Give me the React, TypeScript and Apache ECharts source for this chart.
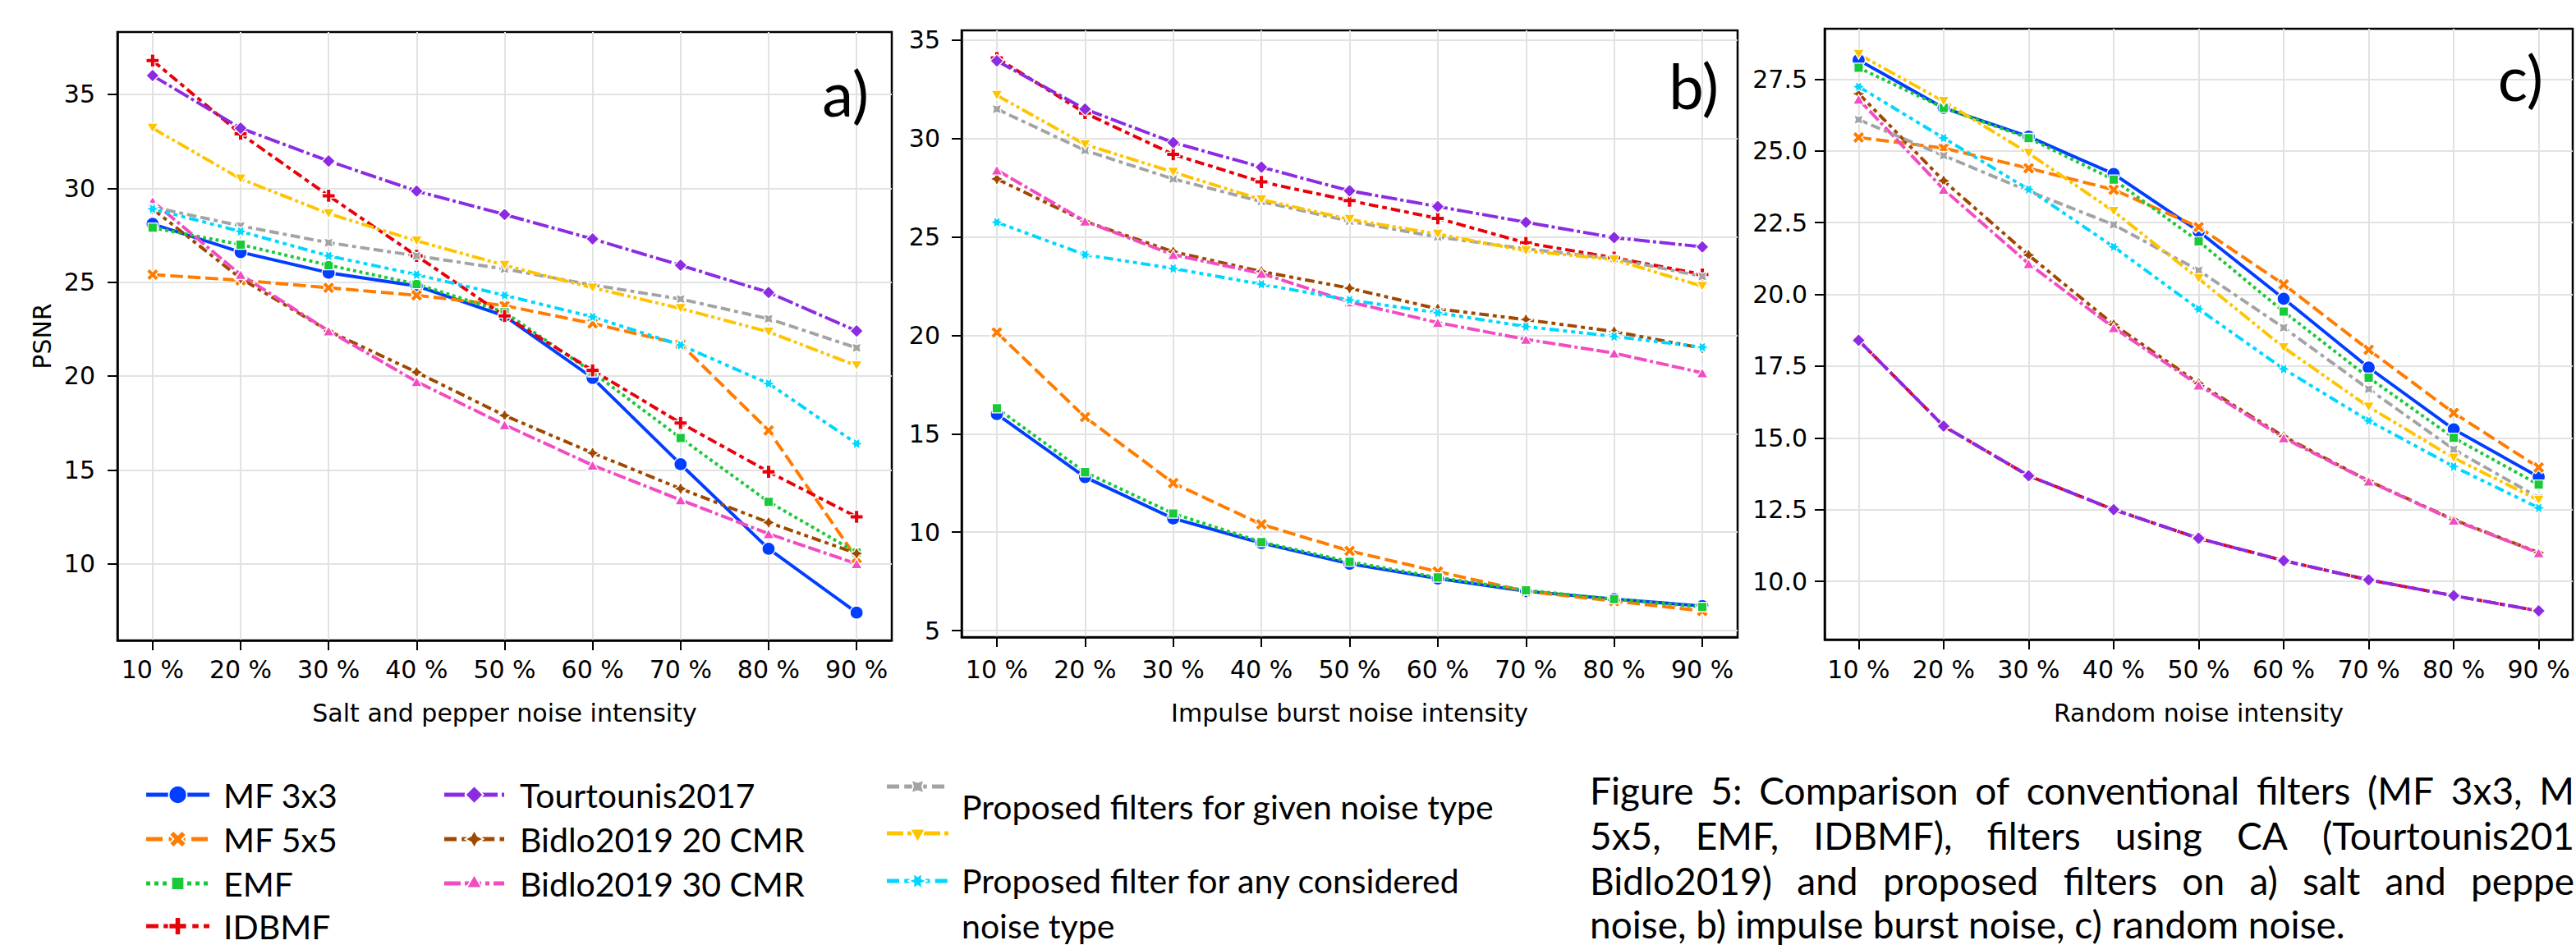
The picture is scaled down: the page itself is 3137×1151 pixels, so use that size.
import React, { useEffect, useRef } from "react";
import * as echarts from "echarts";

// ---------------- DATA ----------------
const xLabels = ["10 %", "20 %", "30 %", "40 %", "50 %", "60 %", "70 %", "80 %", "90 %"];
const xTitles = ["Salt and pepper noise intensity", "Impulse burst noise intensity", "Random noise intensity"];
const panelTags = ["a)", "b)", "c)"];
const yTitle = "PSNR";

const yTicksA = [10, 15, 20, 25, 30, 35];
const yTicksB = [5, 10, 15, 20, 25, 30, 35];
const yTicksC = [10, 12.5, 15, 17.5, 20, 22.5, 25, 27.5];

const seriesNames = [
  "MF 3x3",
  "MF 5x5",
  "EMF",
  "IDBMF",
  "Tourtounis2017",
  "Bidlo2019 20 CMR",
  "Bidlo2019 30 CMR",
  "Proposed filters for given noise type (1)",
  "Proposed filters for given noise type (2)",
  "Proposed filter for any considered noise type",
];

// a) salt and pepper noise
const spMF3 = [28.1, 26.6, 25.5, 24.8, 23.2, 19.9, 15.3, 10.8, 7.4];
const spMF5 = [25.4, 25.1, 24.7, 24.3, 23.75, 22.8, 21.7, 17.1, 10.3];
const spEMF = [27.9, 27.0, 25.9, 24.9, 23.4, 20.2, 16.7, 13.3, 10.6];
const spIDBMF = [36.8, 32.9, 29.6, 26.4, 23.2, 20.3, 17.5, 14.9, 12.5];
const spTour = [36.0, 33.2, 31.45, 29.85, 28.6, 27.3, 25.9, 24.45, 22.4];
const spB20 = [28.9, 25.2, 22.4, 20.2, 17.9, 15.9, 14.0, 12.2, 10.55];
const spB30 = [29.3, 25.4, 22.4, 19.7, 17.4, 15.25, 13.4, 11.6, 10.0];
const spGivenGray = [29.0, 28.0, 27.1, 26.4, 25.7, 24.85, 24.1, 23.05, 21.5];
const spGivenYellow = [33.2, 30.5, 28.65, 27.2, 25.9, 24.7, 23.6, 22.35, 20.55];
const spAny = [28.9, 27.7, 26.4, 25.4, 24.3, 23.15, 21.65, 19.6, 16.4];

// b) impulse burst noise
const ibMF3 = [16.0, 12.8, 10.7, 9.45, 8.4, 7.65, 7.0, 6.6, 6.25];
const ibMF5 = [20.15, 15.85, 12.5, 10.4, 9.05, 8.0, 7.0, 6.5, 6.0];
const ibEMF = [16.3, 13.05, 10.95, 9.5, 8.5, 7.7, 7.05, 6.6, 6.2];
const ibIDBMF = [34.1, 31.3, 29.2, 27.8, 26.85, 25.95, 24.7, 23.95, 23.1];
const ibTour = [33.95, 31.5, 29.8, 28.55, 27.35, 26.55, 25.75, 24.97, 24.5];
const ibB20 = [27.95, 25.8, 24.25, 23.25, 22.4, 21.35, 20.8, 20.2, 19.35];
const ibB30 = [28.4, 25.8, 24.1, 23.15, 21.7, 20.65, 19.8, 19.1, 18.1];
const ibGivenGray = [31.5, 29.4, 27.95, 26.8, 25.8, 25.0, 24.4, 23.9, 23.0];
const ibGivenYellow = [32.2, 29.7, 28.3, 26.9, 25.9, 25.15, 24.3, 23.85, 22.5];
const ibAny = [25.75, 24.1, 23.4, 22.6, 21.8, 21.15, 20.45, 19.95, 19.4];

// c) random noise
const rnMF3 = [28.17, 26.5, 25.5, 24.2, 22.2, 19.85, 17.45, 15.3, 13.64];
const rnMF5 = [25.47, 25.1, 24.4, 23.65, 22.35, 20.35, 18.07, 15.87, 13.97];
const rnEMF = [27.9, 26.5, 25.45, 24.0, 21.85, 19.4, 17.1, 15.0, 13.37];
const rnIDBMF = [18.4, 15.41, 13.68, 12.5, 11.5, 10.72, 10.05, 9.5, 8.97];
const rnTour = [18.4, 15.41, 13.68, 12.5, 11.5, 10.72, 10.05, 9.5, 8.97];
const rnB20 = [27.0, 23.96, 21.37, 18.95, 16.9, 15.05, 13.5, 12.15, 11.0];
const rnB30 = [26.8, 23.66, 21.07, 18.84, 16.84, 15.0, 13.49, 12.13, 10.99];
const rnGivenGray = [26.09, 24.84, 23.6, 22.43, 20.84, 18.84, 16.7, 14.6, 12.92];
const rnGivenYellow = [28.37, 26.73, 24.92, 22.9, 20.55, 18.15, 16.08, 14.3, 12.83];
const rnAny = [27.24, 25.45, 23.66, 21.66, 19.49, 17.4, 15.6, 14.0, 12.56];

const legendCol1 = ["MF 3x3", "MF 5x5", "EMF", "IDBMF"];
const legendCol2 = ["Tourtounis2017", "Bidlo2019 20 CMR", "Bidlo2019 30 CMR"];
const legendCol3Text = ["Proposed filters for given noise type", "Proposed filter for any considered", "noise type"];

const captionLine1 = ["Figure", "5:", "Comparison", "of", "conventional", "filters", "(MF", "3x3,", "M"];
const captionLine2 = ["5x5,", "EMF,", "IDBMF),", "filters", "using", "CA", "(Tourtounis201"];
const captionLine3 = ["Bidlo2019)", "and", "proposed", "filters", "on", "a)", "salt", "and", "peppe"];
const captionLine4 = "noise, b) impulse burst noise, c) random noise.";

// ---------------- STYLE ----------------
const W = 3137;
const H = 1151;
const palette = ["#023eff", "#ff7c00", "#1ac938", "#e8000b", "#8b2be2", "#9f4800", "#f14cc1", "#a3a3a3", "#ffc400", "#00d7ff"];
const dashUnits: (number[] | null)[] = [
  null,
  [4, 1.5],
  [1, 1],
  [3, 1.25, 1.5, 1.25],
  [5, 1, 1, 1],
  [3, 1.25, 1.25, 1.25, 1.25, 1.25],
  [4, 1, 4, 1, 1, 1],
  [3, 1.25, 3, 1.25, 1.25, 1.25],
  [4, 1, 1, 1, 1, 1],
  [3, 1.25, 1.25, 1.25, 1.25, 1.25, 1.25, 1.25],
];

function rotatePts(pts: number[][], deg: number) {
  const a = (deg * Math.PI) / 180;
  const c = Math.cos(a), s = Math.sin(a);
  return pts.map(([x, y]) => [x * c - y * s, x * s + y * c]);
}
function regPoly(n: number, rotDeg: number) {
  const pts: number[][] = [];
  for (let k = 0; k < n; k++) {
    const a = ((90 + rotDeg + (360 / n) * k) * Math.PI) / 180;
    pts.push([0.5 * Math.cos(a), -0.5 * Math.sin(a)]);
  }
  return pts;
}
function starPoly(n: number, inner: number, rotDeg: number) {
  const pts: number[][] = [];
  for (let k = 0; k < 2 * n; k++) {
    const a = ((90 + rotDeg + (180 / n) * k) * Math.PI) / 180;
    const r = k % 2 === 0 ? 0.5 : 0.5 * inner;
    pts.push([r * Math.cos(a), -r * Math.sin(a)]);
  }
  return pts;
}
const plusBase = [
  [-1, -3], [1, -3], [1, -1], [3, -1], [3, 1], [1, 1], [1, 3], [-1, 3], [-1, 1], [-3, 1], [-3, -1], [-1, -1],
].map(([x, y]) => [x / 6, y / 6]);

const markerShapes: (string | number[][])[] = [
  "circle",
  rotatePts(plusBase, 45),
  regPoly(4, 45),
  plusBase,
  regPoly(4, 0),
  starPoly(4, 0.5, 0),
  regPoly(3, 0),
  starPoly(4, 0.5, 45),
  regPoly(3, 180),
  starPoly(6, 0.5, 30),
];

function bboxMax(pts: number[][]) {
  const xs = pts.map((p) => p[0]);
  const ys = pts.map((p) => p[1]);
  return Math.max(Math.max(...xs) - Math.min(...xs), Math.max(...ys) - Math.min(...ys));
}
function toPath(pts: number[][]) {
  return "path://M" + pts.map((p) => p[0].toFixed(4) + " " + p[1].toFixed(4)).join(" L") + " Z";
}

const LW = 3.9;
const MS = 16;
const LEG_LW = 5;
const LEG_MS = 22;

const grids = [
  { left: 143, top: 39, width: 943, height: 741 },
  { left: 1171, top: 37, width: 945, height: 739 },
  { left: 2222, top: 35, width: 911, height: 744 },
];
const yRanges = [
  [5.92, 38.32],
  [4.67, 35.5],
  [7.97, 29.26],
];
const yTickSets = [yTicksA, yTicksB, yTicksC];
const yLabelMargins = [27, 26, 21];
const xLabelMargins = [20.5, 24.5, 21.5];
const xNameGaps = [73, 77, 74];
const tagPos = [
  [1058, 112],
  [2093, 103],
  [3097, 93],
];

const tickFont = "DejaVu Sans";
const docFont = "Lato";
const LEG_FONT = 41;
const CAP_FONT = 46;
const CAP_LEFT = 1936;
const CAP_RIGHT = 3135;
const capLineY = [962, 1017, 1072, 1125];

export default function App() {
  const ref = useRef<HTMLDivElement>(null);

  useEffect(() => {
    if (!ref.current) return;
    const chart = echarts.init(ref.current, undefined, { renderer: "svg" });

    const panelData = [
      [spMF3, spMF5, spEMF, spIDBMF, spTour, spB20, spB30, spGivenGray, spGivenYellow, spAny],
      [ibMF3, ibMF5, ibEMF, ibIDBMF, ibTour, ibB20, ibB30, ibGivenGray, ibGivenYellow, ibAny],
      [rnMF3, rnMF5, rnEMF, rnIDBMF, rnTour, rnB20, rnB30, rnGivenGray, rnGivenYellow, rnAny],
    ];
    const xIdx = xLabels.map((_, i) => i);

    const series: any[] = [];
    panelData.forEach((list, p) => {
      list.forEach((vals, s) => {
        const shape = markerShapes[s];
        const isCircle = shape === "circle";
        series.push({
          type: "line",
          name: seriesNames[s],
          xAxisIndex: p,
          yAxisIndex: p,
          data: vals.map((v, i) => [i, v]),
          symbol: isCircle ? "circle" : toPath(shape as number[][]),
          symbolSize: isCircle ? MS : MS * bboxMax(shape as number[][]),
          symbolKeepAspect: true,
          showSymbol: true,
          lineStyle: {
            color: palette[s],
            width: LW,
            type: dashUnits[s] ? (dashUnits[s] as number[]).map((d) => d * LW) : "solid",
            cap: "butt",
          },
          itemStyle: { color: palette[s], borderColor: "#ffffff", borderWidth: 1.3 },
          emphasis: { disabled: true },
          z: 2,
          silent: true,
        });
      });
    });

    const xAxes = grids.map((_, p) => ({
      type: "value",
      gridIndex: p,
      min: -0.4,
      max: 8.4,
      axisLine: { show: true, onZero: false, lineStyle: { color: "#000", width: 2.5 } },
      axisTick: { show: true, length: 12, lineStyle: { color: "#000", width: 2 }, customValues: xIdx },
      axisLabel: {
        customValues: xIdx,
        formatter: (v: number) => xLabels[Math.round(v)],
        fontFamily: tickFont,
        fontSize: 30,
        color: "#000",
        margin: xLabelMargins[p],
      },
      splitLine: { show: true, lineStyle: { color: "#e2e2e2", width: 2 } },
      name: xTitles[p],
      nameLocation: "middle",
      nameGap: xNameGaps[p],
      nameTextStyle: { fontFamily: tickFont, fontSize: 30, color: "#000" },
    }));

    const yAxes = grids.map((_, p) => ({
      type: "value",
      gridIndex: p,
      min: yRanges[p][0],
      max: yRanges[p][1],
      axisLine: { show: true, onZero: false, lineStyle: { color: "#000", width: 2.5 } },
      axisTick: { show: true, length: 12, lineStyle: { color: "#000", width: 2 }, customValues: yTickSets[p] },
      axisLabel: {
        customValues: yTickSets[p],
        formatter: (v: number) => (p === 2 ? v.toFixed(1) : String(Math.round(v))),
        fontFamily: tickFont,
        fontSize: 30,
        color: "#000",
        margin: yLabelMargins[p],
      },
      splitLine: { show: true, lineStyle: { color: "#e2e2e2", width: 2 } },
      name: p === 0 ? yTitle : "",
      nameLocation: "middle",
      nameGap: 77,
      nameTextStyle: { fontFamily: tickFont, fontSize: 30, color: "#000" },
    }));

    const elements: any[] = [];

    // panel tags
    panelTags.forEach((t, p) => {
      elements.push({
        type: "text",
        x: tagPos[p][0],
        y: tagPos[p][1],
        style: { text: t, fontFamily: docFont, fontSize: 76, fill: "#000", textAlign: "right", textVerticalAlign: "middle" },
        z: 10,
      });
    });

    // legend helpers
    const legendIcon = (s: number, x1: number, x2: number, y: number) => {
      const dash = dashUnits[s];
      elements.push({
        type: "line",
        shape: { x1, y1: y, x2, y2: y },
        style: {
          stroke: palette[s],
          lineWidth: LEG_LW,
          lineDash: dash ? dash.map((d) => d * LEG_LW) : null,
          lineCap: "butt",
        },
        z: 10,
      });
      const cx = (x1 + x2) / 2;
      const shape = markerShapes[s];
      if (shape === "circle") {
        elements.push({
          type: "circle",
          shape: { cx, cy: y, r: LEG_MS / 2 },
          style: { fill: palette[s], stroke: "#fff", lineWidth: 1.8 },
          z: 11,
        });
      } else {
        elements.push({
          type: "polygon",
          shape: { points: (shape as number[][]).map(([px, py]) => [cx + px * LEG_MS, y + py * LEG_MS]) },
          style: { fill: palette[s], stroke: "#fff", lineWidth: 1.8 },
          z: 11,
        });
      }
    };
    const legendText = (t: string, x: number, y: number) => {
      elements.push({
        type: "text",
        x,
        y,
        style: { text: t, fontFamily: docFont, fontSize: LEG_FONT, fill: "#000", textAlign: "left", textVerticalAlign: "middle" },
        z: 10,
      });
    };

    const col1Y = [968, 1022, 1076, 1128];
    legendCol1.forEach((t, i) => {
      legendIcon(i, 178, 255, col1Y[i]);
      legendText(t, 272, col1Y[i]);
    });
    const col2Y = [968, 1022, 1076];
    legendCol2.forEach((t, i) => {
      legendIcon(4 + i, 541, 614, col2Y[i]);
      legendText(t, 633, col2Y[i]);
    });
    const col3Y = [958, 1015, 1073];
    [7, 8, 9].forEach((s, i) => legendIcon(s, 1080, 1155, col3Y[i]));
    const col3TextY = [982, 1072, 1127];
    legendCol3Text.forEach((t, i) => legendText(t, 1171, col3TextY[i]));

    // caption: a justified paragraph, as in the picture
    const measure = (t: string) => {
      try {
        const el = new (echarts.graphic as any).Text({ style: { text: t, fontSize: CAP_FONT, fontFamily: docFont } });
        const w = el.getBoundingRect().width;
        if (w > 0) return w;
      } catch (e) {
        /* ignore */
      }
      return t.length * CAP_FONT * 0.5;
    };
    const capText = (t: string, x: number, y: number) => {
      elements.push({
        type: "text",
        x,
        y,
        style: { text: t, fontFamily: docFont, fontSize: CAP_FONT, fill: "#000", textAlign: "left", textVerticalAlign: "middle" },
        z: 10,
      });
    };
    const justify = (words: string[], y: number) => {
      const ws = words.map(measure);
      const sum = ws.reduce((a, b) => a + b, 0);
      const gap = Math.max(CAP_FONT * 0.22, (CAP_RIGHT - CAP_LEFT - sum) / (words.length - 1));
      let x = CAP_LEFT;
      words.forEach((w, i) => {
        capText(w, x, y);
        x += ws[i] + gap;
      });
    };
    justify(captionLine1, capLineY[0]);
    justify(captionLine2, capLineY[1]);
    justify(captionLine3, capLineY[2]);
    capText(captionLine4, CAP_LEFT, capLineY[3]);

    chart.setOption({
      animation: false,
      backgroundColor: "#ffffff",
      grid: grids.map((g) => ({ ...g, show: true, borderColor: "#000", borderWidth: 2.5, backgroundColor: "transparent", containLabel: false })),
      xAxis: xAxes,
      yAxis: yAxes,
      series,
      graphic: { elements },
    });

    return () => chart.dispose();
  }, []);

  return (
    <div
      ref={ref}
      style={{ position: "absolute", left: 0, top: 0, width: W + "px", height: H + "px", background: "#fff" }}
    />
  );
}
